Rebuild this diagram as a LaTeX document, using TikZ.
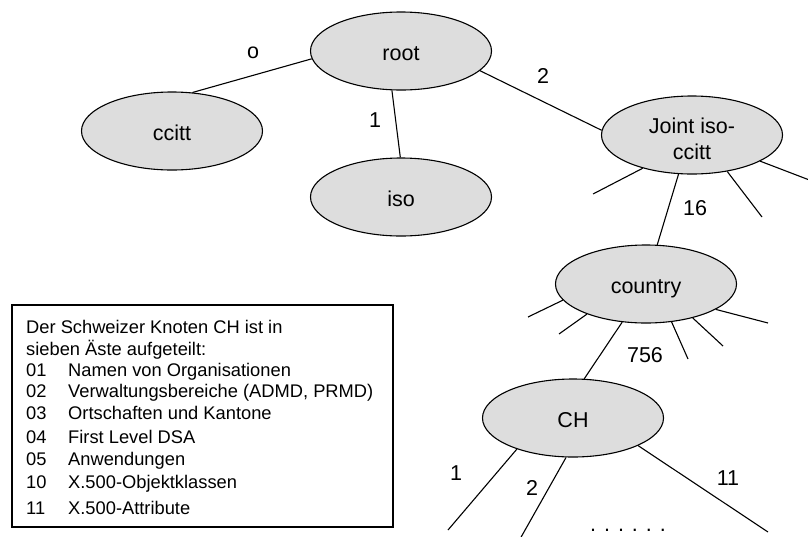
\documentclass[tikz,border=0pt]{standalone}
\usepackage{fontspec}
\setmainfont{Liberation Sans}
\usetikzlibrary{shapes.geometric}
\definecolor{nodefill}{RGB}{221,221,221}
\begin{document}
\begin{tikzpicture}[x=1pt,y=1pt,
  oid/.style={ellipse, draw, fill=nodefill, line width=1.1pt,
    minimum width=181pt, minimum height=78pt, inner sep=0pt,
    font=\fontsize{21.5}{26}\selectfont, text height=19.5pt, text depth=1.5pt},
  oidtwo/.style={oid, text height=49pt, text depth=0pt},
  arc/.style={line width=1.1pt},
  arclabel/.style={font=\fontsize{21.5}{26}\selectfont, inner sep=0pt},
  legend/.style={font=\fontsize{18.3}{22}\selectfont, anchor=base west, inner sep=0pt}
]
\useasboundingbox (0,0) rectangle (808,-536);

% object identifier tree
\node[oid] (root)    at (401,-51)  {root};
\node[oid] (ccitt)   at (172,-131) {ccitt};
\node[oid] (iso)     at (401,-197) {iso};
\node[oidtwo] (joint) at (692,-135) {\begin{tabular}[b]{@{}c@{}}Joint iso-\\ccitt\end{tabular}};
\node[oid] (country) at (646,-284) {country};
\node[oid] (ch)      at (573,-418) {CH};

% arcs between nodes
\draw[arc] (root.185.8)   -- (ccitt.62.9);
\draw[arc] (root.257.9)   -- (iso.91.4);
\draw[arc] (root.346.6)   -- (joint.177.5);
\draw[arc] (joint.251.6)  -- (country.74.9);
\draw[arc] (country.238.4) -- (ch.74.2);

% further (unnamed) branches
\coordinate (j1) at (593,-194);
\coordinate (j2) at (762,-217);
\coordinate (j3) at (812,-181);
\draw[arc] (joint.214.5) -- (j1);
\draw[arc] (joint.314.2) -- (j2);
\draw[arc] (joint.339.9) -- (j3);

\coordinate (c1) at (528,-317);
\coordinate (c2) at (559,-334);
\coordinate (c3) at (688,-359);
\coordinate (c4) at (723,-346);
\coordinate (c5) at (768,-323);
\draw[arc] (country.191.4) -- (c1);
\draw[arc] (country.207.7) -- (c2);
\draw[arc] (country.304.7) -- (c3);
\draw[arc] (country.324.1) -- (c4);
\draw[arc] (country.340.9) -- (c5);

\coordinate (h1) at (448,-530);
\coordinate (h2) at (520,-539);
\coordinate (h3) at (768,-532);
\draw[arc] (ch.209.7) -- (h1);
\draw[arc] (ch.260.1) -- (h2);
\draw[arc] (ch.337.9) -- (h3);

% arc numbers
\node[arclabel] (l0)   at (253,-53)  {o};
\node[arclabel] (l1)   at (375,-120) {1};
\node[arclabel] (l2)   at (543,-76)  {2};
\node[arclabel] (l16)  at (695,-208) {16};
\node[arclabel] (l756) at (645,-355) {756};
\node[arclabel] (lch1) at (456,-473) {1};
\node[arclabel] (lch2) at (532,-488) {2};
\node[arclabel] (lch11) at (728,-478) {11};
\node[arclabel, anchor=base] (dots) at (628,-531) {. . . . . .};

% legend box
\draw[line width=1.1pt] (12,-305) rectangle (393,-527);
\node[legend] (t0) at (26,-333.5) {Der Schweizer Knoten CH ist in};
\node[legend] (t1) at (26,-355.5) {sieben Äste aufgeteilt:};
\foreach \n/\yy/\num/\txt in {
  a/376.5/01/Namen von Organisationen,
  b/397.5/02/{Verwaltungsbereiche (ADMD, PRMD)},
  c/419.5/03/Ortschaften und Kantone,
  d/443.5/04/First Level DSA,
  e/465.5/05/Anwendungen,
  f/488.5/10/X.500-Objektklassen,
  g/514.5/11/X.500-Attribute} {
  \node[legend] (num\n) at (26,-\yy) {\num};
  \node[legend] (txt\n) at (68,-\yy) {\txt};
}
\end{tikzpicture}
\end{document}
